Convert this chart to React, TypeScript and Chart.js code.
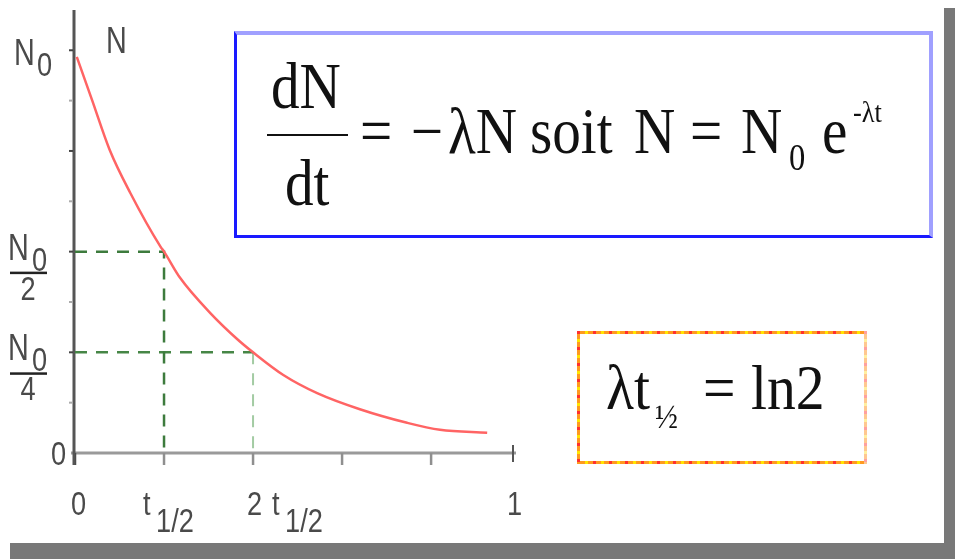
import React, { useEffect, useRef } from "react";
import { Chart, registerables } from "chart.js";

Chart.register(...registerables);

// Radioactive decay N(t): time in half-lives, N in axis units (N0 = 8)
const timeValues = [0.02, 0.19, 0.39, 0.62, 0.96, 1.0, 1.18, 1.52, 1.83, 2.0, 2.34, 2.72, 3.2, 3.73, 4.1, 4.63];
const countValues = [7.87, 7.02, 6.02, 5.17, 4.1, 4.0, 3.48, 2.78, 2.25, 2.0, 1.55, 1.19, 0.87, 0.6, 0.46, 0.4];

const N0 = 8;
const T_HALF = 1;
const X_END = 4.92;
const Y_MAX = 8.8;

const xTickValues = [0, 1, 2, 3, 4];
const yTickValues = [1, 2, 3, 4, 5, 6, 7, 8];

// x labels: [value, main text, subscript text]
const xLabelMain = ["0", "t", "2 t", "1"];
const xLabelSub = ["", "1/2", "1/2", ""];
const xLabelValues = [0, T_HALF, 2 * T_HALF, X_END];

// y fraction labels: numerator "N0", denominators
const yFractionValues = [N0 / 2, N0 / 4];
const yFractionDenoms = ["2", "4"];

const SANS = '"Liberation Sans", Arial, sans-serif';
const SERIF = '"Liberation Serif", "Times New Roman", serif';

function drawText(ctx: CanvasRenderingContext2D, text: string, x: number, y: number, size: number, sx = 0.8, align: CanvasTextAlign = "left") {
  ctx.save();
  ctx.translate(x, y);
  ctx.scale(sx, 1);
  ctx.font = `${size}px ${SANS}`;
  ctx.textAlign = align;
  ctx.textBaseline = "alphabetic";
  ctx.fillText(text, 0, 0);
  ctx.restore();
}

const axesPlugin = {
  id: "decayAxes",
  beforeDatasetsDraw(chart: any) {
    const { ctx } = chart;
    const xs = chart.scales.x;
    const ys = chart.scales.y;
    const x0 = xs.getPixelForValue(0);
    const y0 = ys.getPixelForValue(0);
    const yTop = ys.getPixelForValue(Y_MAX);
    const xEnd = xs.getPixelForValue(X_END);
    ctx.save();
    // horizontal axis
    ctx.strokeStyle = "#9a9a9a";
    ctx.lineWidth = 3;
    ctx.beginPath();
    ctx.moveTo(x0 - 4, y0);
    ctx.lineTo(xEnd + 3, y0);
    ctx.stroke();
    // x tick marks
    ctx.lineWidth = 2.5;
    xTickValues.forEach((v) => {
      const px = xs.getPixelForValue(v);
      ctx.strokeStyle = v === 0 ? "#444" : "#8f8f8f";
      ctx.beginPath();
      ctx.moveTo(px, y0);
      ctx.lineTo(px, y0 + 12);
      ctx.stroke();
    });
    // end mark
    ctx.strokeStyle = "#555";
    ctx.lineWidth = 2;
    ctx.beginPath();
    ctx.moveTo(xEnd, y0 - 8);
    ctx.lineTo(xEnd, y0 + 9);
    ctx.stroke();
    // vertical axis
    ctx.strokeStyle = "#555";
    ctx.lineWidth = 3;
    ctx.beginPath();
    ctx.moveTo(x0 - 1, y0 + 12);
    ctx.lineTo(x0 - 1, yTop);
    ctx.stroke();
    // y tick marks
    ctx.lineWidth = 2;
    yTickValues.forEach((v, i) => {
      const py = ys.getPixelForValue(v);
      ctx.strokeStyle = i % 2 === 0 ? "#aaa" : "#444";
      ctx.beginPath();
      ctx.moveTo(x0 - 6, py);
      ctx.lineTo(x0 - 2, py);
      ctx.stroke();
    });
    ctx.restore();
  },
  afterDraw(chart: any) {
    const { ctx } = chart;
    const xs = chart.scales.x;
    const ys = chart.scales.y;
    const x0 = xs.getPixelForValue(0);
    const y0 = ys.getPixelForValue(0);
    const yTop = ys.getPixelForValue(Y_MAX);
    ctx.save();
    ctx.fillStyle = "#4a4a4a";

    // axis name
    drawText(ctx, "N", x0 + 31, yTop + 43, 36, 0.8);

    // N0 at the top of the vertical axis
    const pN0 = ys.getPixelForValue(N0);
    drawText(ctx, "N", 14, pN0 + 15, 36, 0.8);
    drawText(ctx, "0", 37, pN0 + 26, 34, 0.8);

    // fractions N0/2, N0/4
    yFractionValues.forEach((v, i) => {
      const py = ys.getPixelForValue(v);
      drawText(ctx, "N", 8, py + 8, 36, 0.8);
      drawText(ctx, "0", 32, py + 19, 34, 0.8);
      ctx.fillStyle = "#222";
      ctx.fillRect(10, py + 20, 37, 2.5);
      ctx.fillStyle = "#4a4a4a";
      drawText(ctx, yFractionDenoms[i], 28, py + 48, 34, 0.8, "center");
    });

    // zero on the vertical axis
    drawText(ctx, "0", 51, y0 + 12, 34, 0.8);

    // x labels
    xLabelValues.forEach((v, i) => {
      const px = xs.getPixelForValue(v);
      const main = xLabelMain[i];
      const sub = xLabelSub[i];
      if (!sub) {
        drawText(ctx, main, px + (v === 0 ? -4 : -6), y0 + 62, 34, 0.8);
      } else if (main === "t") {
        drawText(ctx, "t", px - 21, y0 + 62, 34, 0.8);
        drawText(ctx, sub, px - 8, y0 + 79, 34, 0.8);
      } else {
        drawText(ctx, "2", px - 6, y0 + 62, 34, 0.8);
        drawText(ctx, "t", px + 19, y0 + 62, 34, 0.8);
        drawText(ctx, sub, px + 32, y0 + 79, 34, 0.8);
      }
    });
    ctx.restore();
  },
};

type TxtProps = { x: number; base: number; size: number; sx?: number; children: React.ReactNode };

function Txt({ x, base, size, sx = 0.88, children }: TxtProps) {
  return (
    <div
      style={{
        position: "absolute",
        left: x,
        top: base - size * 0.8375,
        fontSize: size,
        lineHeight: `${size}px`,
        fontFamily: SERIF,
        whiteSpace: "nowrap",
        color: "#111",
        transform: `scaleX(${sx})`,
        transformOrigin: "0 0",
      }}
    >
      {children}
    </div>
  );
}

const dotted = (dir: string, a: string, b: string, c: string) =>
  `repeating-linear-gradient(${dir}, ${a} 0 3px, ${b} 3px 8px, ${c} 8px 11px, ${b} 11px 16px)`;

export default function App() {
  const canvasRef = useRef<HTMLCanvasElement | null>(null);

  useEffect(() => {
    const canvas = canvasRef.current;
    if (!canvas) return;
    const curve = timeValues.map((t, i) => ({ x: t, y: countValues[i] }));
    const halfGuide = [
      { x: 0, y: N0 / 2 },
      { x: T_HALF, y: N0 / 2 },
      { x: T_HALF, y: 0 },
    ];
    const quarterGuideH = [
      { x: 0, y: N0 / 4 },
      { x: 2 * T_HALF, y: N0 / 4 },
    ];
    const quarterGuideV = [
      { x: 2 * T_HALF, y: N0 / 4 },
      { x: 2 * T_HALF, y: 0 },
    ];
    const chart = new Chart(canvas, {
      type: "line",
      data: {
        datasets: [
          {
            label: "N(t)",
            data: curve,
            borderColor: "#ff6464",
            borderWidth: 2.5,
            pointRadius: 0,
            cubicInterpolationMode: "monotone",
            fill: false,
          },
          {
            label: "N0/2",
            data: halfGuide,
            borderColor: "#3d7b3d",
            borderWidth: 2.5,
            borderDash: [12, 9],
            pointRadius: 0,
            fill: false,
          },
          {
            label: "N0/4",
            data: quarterGuideH,
            borderColor: "#468646",
            borderWidth: 2.5,
            borderDash: [12, 9],
            pointRadius: 0,
            fill: false,
          },
          {
            label: "2 t1/2",
            data: quarterGuideV,
            borderColor: "#a3cba3",
            borderWidth: 2,
            borderDash: [12, 9],
            pointRadius: 0,
            fill: false,
          },
        ],
      },
      options: {
        responsive: false,
        animation: false,
        devicePixelRatio: 1,
        events: [],
        layout: { padding: { left: 75, top: 10, right: 442, bottom: 106 } },
        scales: {
          x: { type: "linear", min: 0, max: X_END, display: false },
          y: { type: "linear", min: 0, max: Y_MAX, display: false },
        },
        plugins: { legend: { display: false }, tooltip: { enabled: false } },
      },
      plugins: [axesPlugin],
    } as any);
    return () => chart.destroy();
  }, []);

  return (
    <div style={{ position: "fixed", left: 0, top: 0, width: 955, height: 559, background: "#fff", overflow: "hidden" }}>
      <canvas ref={canvasRef} width={955} height={559} style={{ position: "absolute", left: 0, top: 0, display: "block" }} />

      {/* shadow frame */}
      <div style={{ position: "absolute", left: 944, top: 8, width: 11, height: 551, background: "#787878" }} />
      <div style={{ position: "absolute", left: 10, top: 543, width: 945, height: 16, background: "#787878" }} />

      {/* decay law */}
      <div
        style={{
          position: "absolute",
          left: 234,
          top: 31,
          width: 699,
          height: 207,
          boxSizing: "border-box",
          borderTop: "4px solid #a0a0ff",
          borderRight: "4px solid #a0a0ff",
          borderLeft: "3px solid #1a1aff",
          borderBottom: "3px solid #1a1aff",
        }}
      />
      <Txt x={271} base={108} size={65}>dN</Txt>
      <div style={{ position: "absolute", left: 267, top: 133.5, width: 81, height: 2.5, background: "#111" }} />
      <Txt x={285} base={205} size={65}>dt</Txt>
      <Txt x={360} base={153} size={65}>=</Txt>
      <Txt x={411} base={153} size={65}>−</Txt>
      <Txt x={448} base={153} size={65}>λN</Txt>
      <Txt x={530} base={153} size={65}>soit</Txt>
      <Txt x={634} base={153} size={65}>N</Txt>
      <Txt x={690} base={153} size={65}>=</Txt>
      <Txt x={741} base={153} size={65}>N</Txt>
      <Txt x={789} base={170} size={37}>0</Txt>
      <Txt x={822} base={153} size={65}>e</Txt>
      <Txt x={853} base={122} size={30}>-λt</Txt>

      {/* half-life relation */}
      <div style={{ position: "absolute", left: 577, top: 331, width: 290, height: 3, background: dotted("90deg", "#ff3030", "#ff9a20", "#ffe600") }} />
      <div style={{ position: "absolute", left: 577, top: 461, width: 290, height: 3, background: dotted("90deg", "#ff3030", "#ff9a20", "#ffe600") }} />
      <div style={{ position: "absolute", left: 577, top: 331, width: 3, height: 133, background: dotted("180deg", "#ff3030", "#ff9a20", "#ffe600") }} />
      <div style={{ position: "absolute", left: 864, top: 331, width: 3, height: 133, background: dotted("180deg", "#ffa0a0", "#ffc890", "#fff0a0") }} />
      <Txt x={606} base={410} size={64} sx={0.9}>λt</Txt>
      <Txt x={655} base={428} size={34} sx={0.9}>½</Txt>
      <Txt x={703} base={410} size={64} sx={0.9}>=</Txt>
      <Txt x={751} base={410} size={64} sx={0.9}>ln2</Txt>
    </div>
  );
}
